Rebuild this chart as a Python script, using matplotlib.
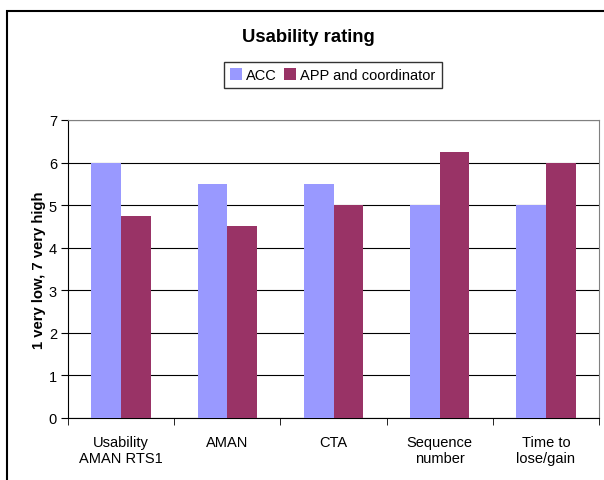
import numpy as np
import matplotlib.pyplot as plt
from matplotlib.patches import Rectangle

categories = ["Usability\nAMAN RTS1", "AMAN", "CTA", "Sequence\nnumber", "Time to\nlose/gain"]
acc = [6, 5.5, 5.5, 5, 5]
app = [4.75, 4.5, 5, 6.25, 6]

plt.rcParams["font.family"] = ["Liberation Sans", "DejaVu Sans"]

fig = plt.figure(figsize=(6.04, 4.81), dpi=100)
ax = fig.add_axes([68 / 604, 1 - 419 / 481, 531 / 604, 298 / 481])

# outer chart frame (cropped at right and bottom)
fig.patches.append(Rectangle((7 / 604, -0.05), 1.2, 0.975 + 0.05, transform=fig.transFigure,
                             fill=False, edgecolor="black", linewidth=1.5))

x = np.arange(len(categories))
w = 0.28
ax.bar(x - w / 2, acc, w, color="#9999FF", label="ACC", zorder=3)
ax.bar(x + w / 2, app, w, color="#993366", label="APP and coordinator", zorder=3)

ax.set_xlim(-0.5, len(categories) - 0.5)
ax.set_ylim(0, 7)
ax.set_yticks(range(8))
ax.yaxis.grid(True, color="black", linewidth=0.8, zorder=0)
ax.set_xticks(x)
ax.set_xticklabels(categories, fontsize=10.5)
ax.set_xticks(np.arange(-0.5, len(categories)), minor=True)
ax.tick_params(axis="x", which="major", length=0, pad=12)
ax.tick_params(axis="x", which="minor", length=5, direction="out", color="black")
ax.tick_params(axis="y", length=5, labelsize=10.5, pad=3)

for s in ["top", "right"]:
    ax.spines[s].set_color("#808080")
for s in ["left", "bottom"]:
    ax.spines[s].set_color("black")

ax.set_ylabel("1 very low, 7 very high", fontsize=10.7, fontweight="bold", labelpad=2)

fig.text(308 / 604, 1 - 38 / 481, "Usability rating", ha="center", va="center",
         fontsize=13.3, fontweight="bold")

leg = fig.legend(loc="center", bbox_to_anchor=(333 / 604, 1 - 76 / 481), ncol=2,
                 fontsize=10.5, frameon=True, fancybox=False, edgecolor="black",
                 handlelength=0.8, handleheight=0.8, handletextpad=0.3,
                 columnspacing=0.5, borderpad=0.4, borderaxespad=0)
leg.get_frame().set_linewidth(1.0)

fig.savefig("out.png", dpi=100)
